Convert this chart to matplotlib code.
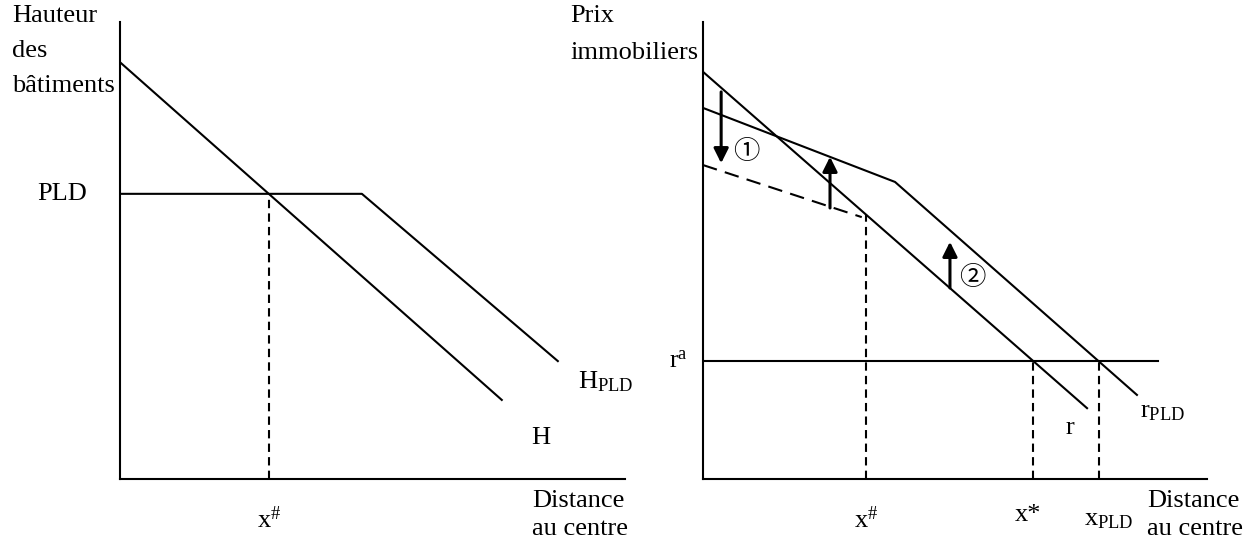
import numpy as np
import matplotlib.pyplot as plt

plt.rcParams['font.family'] = ['Liberation Serif', 'Noto Sans CJK JP', 'DejaVu Sans']
plt.rcParams['mathtext.fontset'] = 'custom'
plt.rcParams['mathtext.rm'] = 'Liberation Serif'
plt.rcParams['mathtext.it'] = 'Liberation Serif:italic'
plt.rcParams['font.size'] = 19

# panneau gauche : hauteur des bâtiments
h_x = [0, 7.56]
h_y = [9.12, 1.73]
hpld_x = [0, 4.79, 8.67]
hpld_y = [6.24, 6.24, 2.58]

# panneau droit : prix immobiliers
r_x = [0, 7.62]
r_y = [8.91, 1.55]
rpld_x = [0, 3.81, 8.61]
rpld_y = [8.12, 6.50, 1.84]
rbas_x = [0, 3.15]
rbas_y = [6.87, 5.73]
r_a = 2.58
ra_fin = 9.03
x_diese_droite = 3.23

# flèches : (x, départ, arrivée)
fleches = [(0.36, 8.47, 6.91), (2.52, 5.93, 7.05), (4.90, 4.18, 5.19)]
etiquettes_fleches = [("①", 0.85, 7.16), ("②", 5.34, 4.40)]

LW = 1.5
fig = plt.figure(figsize=(12.52, 5.40), dpi=100)
ax1 = fig.add_axes([120 / 1252, 61 / 540, 505 / 1252, 457 / 540])
ax2 = fig.add_axes([703 / 1252, 61 / 540, 504 / 1252, 457 / 540])

for ax in (ax1, ax2):
    ax.set_xlim(0, 10)
    ax.set_ylim(0, 10)
    for s in ('top', 'right'):
        ax.spines[s].set_visible(False)
    for s in ('left', 'bottom'):
        ax.spines[s].set_linewidth(LW)
    ax.set_xticks([])
    ax.set_yticks([])
    ax.patch.set_visible(False)

# ---- gauche
ax1.plot(h_x, h_y, color='black', lw=LW)
ax1.plot(hpld_x, hpld_y, color='black', lw=LW)
# intersection H / PLD
pente_h = (h_y[1] - h_y[0]) / (h_x[1] - h_x[0])
x_diese = (hpld_y[0] - h_y[0]) / pente_h
ax1.plot([x_diese, x_diese], [0, hpld_y[0]], color='black', lw=LW, dashes=(4, 2.5))

ax1.text(-2.14, 10.37, "Hauteur\ndes\nbâtiments", ha='left', va='top', linespacing=1.75, clip_on=False)
ax1.text(-1.15, hpld_y[0], "PLD", ha='center', va='center', clip_on=False)
ax1.text(9.07, 2.12, r"H$_{\mathrm{PLD}}$", ha='left', va='center', clip_on=False)
ax1.text(8.34, 0.90, "H", ha='center', va='center', clip_on=False)
ax1.text(x_diese, -0.90, r"x$^{\#}$", ha='center', va='center', clip_on=False)
ax1.text(8.16, -0.24, "Distance\nau centre", ha='left', va='top', linespacing=1.35, clip_on=False)

# ---- droite
ax2.plot(r_x, r_y, color='black', lw=LW)
ax2.plot(rpld_x, rpld_y, color='black', lw=LW)
ax2.plot(rbas_x, rbas_y, color='black', lw=LW, dashes=(7, 4))
ax2.plot([0, ra_fin], [r_a, r_a], color='black', lw=LW)

y_r_diese = np.interp(x_diese_droite, r_x, r_y)
ax2.plot([x_diese_droite, x_diese_droite], [0, y_r_diese], color='black', lw=LW, dashes=(4, 2.5))
x_etoile = np.interp(r_a, r_y[::-1], r_x[::-1])
x_pld = np.interp(r_a, rpld_y[::-1], rpld_x[::-1])
for xv in (x_etoile, x_pld):
    ax2.plot([xv, xv], [0, r_a], color='black', lw=LW, dashes=(4, 2.5))

for xf, y0, y1 in fleches:
    ax2.annotate("", xy=(xf, y1), xytext=(xf, y0),
                 arrowprops=dict(arrowstyle='-|>', lw=2.2, color='black',
                                 mutation_scale=22, shrinkA=0, shrinkB=0))
for txt, xt, yt in etiquettes_fleches:
    ax2.text(xt, yt, txt, ha='center', va='center', fontsize=19)

ax2.text(-2.64, 10.37, "Prix\nimmobiliers", ha='left', va='top', linespacing=1.85, clip_on=False)
ax2.text(-0.3, r_a, r"r$^{\mathrm{a}}$", ha='right', va='center', clip_on=False)
ax2.text(7.28, 1.12, "r", ha='center', va='center', clip_on=False)
ax2.text(8.67, 1.47, r"r$_{\mathrm{PLD}}$", ha='left', va='center', clip_on=False)
ax2.text(x_diese_droite, -0.90, r"x$^{\#}$", ha='center', va='center', clip_on=False)
ax2.text(x_etoile - 0.1, -0.79, "x*", ha='center', va='center', clip_on=False)
ax2.text(x_pld + 0.2, -0.90, r"x$_{\mathrm{PLD}}$", ha='center', va='center', clip_on=False)
ax2.text(8.81, -0.24, "Distance\nau centre", ha='left', va='top', linespacing=1.35, clip_on=False)

fig.savefig("out.png", dpi=100)
